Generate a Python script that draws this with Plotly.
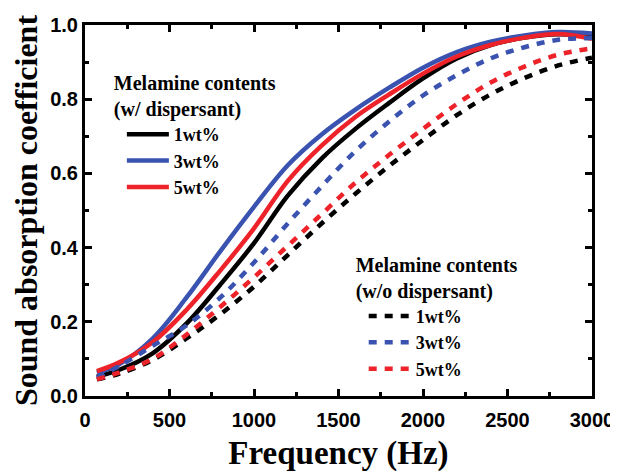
import plotly.graph_objects as go

freq = [70, 200, 400, 600, 800, 1000, 1200, 1400, 1600, 1800, 2000, 2200, 2400, 2600, 2800, 3000]

# with dispersant (solid)
w_1wt = [0.052, 0.070, 0.115, 0.195, 0.300, 0.412, 0.540, 0.640, 0.720, 0.790, 0.856, 0.910, 0.946, 0.966, 0.975, 0.970]
w_3wt = [0.063, 0.085, 0.155, 0.265, 0.390, 0.510, 0.622, 0.705, 0.772, 0.831, 0.885, 0.927, 0.955, 0.972, 0.981, 0.977]
w_5wt = [0.067, 0.090, 0.145, 0.232, 0.338, 0.452, 0.580, 0.675, 0.752, 0.813, 0.869, 0.915, 0.946, 0.966, 0.976, 0.963]

# without dispersant (dashed)
wo_1wt = [0.045, 0.060, 0.097, 0.155, 0.220, 0.295, 0.380, 0.465, 0.545, 0.620, 0.690, 0.757, 0.813, 0.857, 0.891, 0.912]
wo_3wt = [0.050, 0.080, 0.135, 0.190, 0.265, 0.360, 0.465, 0.565, 0.660, 0.740, 0.810, 0.865, 0.910, 0.940, 0.960, 0.965]
wo_5wt = [0.045, 0.063, 0.100, 0.165, 0.240, 0.320, 0.405, 0.490, 0.575, 0.650, 0.720, 0.787, 0.845, 0.888, 0.920, 0.937]

labels = ["1wt%", "3wt%", "5wt%"]
colors = ["#000000", "#3A53B0", "#EE2229"]

x_ticks = [0, 500, 1000, 1500, 2000, 2500, 3000]
y_ticks = [0.0, 0.2, 0.4, 0.6, 0.8, 1.0]

fig = go.Figure()
for name, ys, c in zip(labels, [w_1wt, w_3wt, w_5wt], colors):
    fig.add_trace(go.Scatter(x=freq, y=ys, mode="lines", name=name,
                             line=dict(color=c, width=4.5, shape="spline", smoothing=1.0),
                             legend="legend"))
for name, ys, c in zip(labels, [wo_1wt, wo_3wt, wo_5wt], colors):
    fig.add_trace(go.Scatter(x=freq, y=ys, mode="lines", name=name,
                             line=dict(color=c, width=4.5, dash="8px,8px", shape="spline", smoothing=1.0),
                             legend="legend2"))

serif = "Liberation Serif"
sans = "Liberation Sans"
title_font = dict(family=serif, size=20, color="black", weight="bold")
item_font = dict(family=serif, size=18, color="black", weight="bold")

axis_common = dict(
    showline=True, linewidth=3, linecolor="black", mirror="allticks",
    ticks="inside", ticklen=7, tickwidth=3, tickcolor="black",
    showgrid=False, zeroline=False, automargin=False,
    tickfont=dict(family=sans, size=20, color="black", weight="bold"),
)

# page has an 8px body margin, so the figure is sized/offset to compensate
fig.update_layout(
    width=610, height=464,
    margin=dict(l=77, r=26, t=17, b=76),
    paper_bgcolor="white", plot_bgcolor="white",
    xaxis=dict(range=[0, 3000], tickvals=x_ticks, ticklabelstandoff=4,
               minor=dict(ticks="inside", ticklen=4, tickwidth=2.5, dtick=250, tickcolor="black"),
               title=dict(text="Frequency (Hz)", font=dict(family=serif, size=33, color="black", weight="bold"), standoff=15),
               **axis_common),
    yaxis=dict(range=[0, 1.0], tickvals=y_ticks, tickformat=".1f",
               minor=dict(ticks="inside", ticklen=4, tickwidth=2.5, dtick=0.1, tickcolor="black"),
               title=dict(text="Sound absorption coefficient", font=dict(family=serif, size=32, color="black", weight="bold"), standoff=9),
               **axis_common),
    legend=dict(x=0.053, y=0.895, xanchor="left", yanchor="top",
                title=dict(text="Melamine contents<br>(w/ dispersant)", font=title_font),
                font=item_font, bgcolor="rgba(0,0,0,0)", indentation=10,
                tracegroupgap=0, itemwidth=42),
    legend2=dict(x=0.53, y=0.405, xanchor="left", yanchor="top",
                 title=dict(text="Melamine contents<br>(w/o dispersant)", font=title_font),
                 font=item_font, bgcolor="rgba(0,0,0,0)", indentation=10,
                 tracegroupgap=0, itemwidth=42),
)

fig.write_html("out.html")
